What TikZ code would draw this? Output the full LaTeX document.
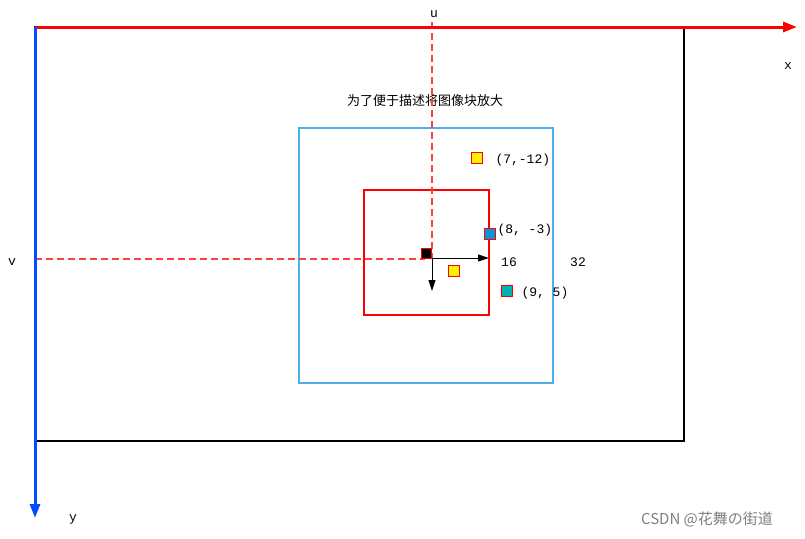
\documentclass[tikz,border=0pt]{standalone}
\usepackage{fontspec}
\setmonofont{Liberation Mono}
\newfontfamily\cjk{Noto Sans CJK SC}
\usetikzlibrary{arrows.meta}
\tikzset{
  axis/.style={line width=3pt,-{Triangle[length=14pt,width=10pt]}}, % main axes
  guide/.style={draw=red!75,line width=1.3pt,dash pattern=on 7pt off 4pt}, % dashed guides
  pix/.style={draw=red,line width=1pt,minimum size=11pt,inner sep=0pt}, % pixel squares
  lab/.style={font=\ttfamily\fontsize{13}{15}\selectfont}, % coordinate labels
  vec/.style={-{Triangle[length=11pt,width=7pt]},line width=1pt}, % local axes
}
\begin{document}
\begin{tikzpicture}[x=1pt,y=-1pt]
\useasboundingbox[fill=white] (0,0) rectangle (805,538);
% image frame and blocks
\draw[line width=1.6pt] (35,27) rectangle (684,441);
\draw[cyan!80!blue!70,line width=1.6pt] (299,128) rectangle (553,383);
\draw[red,line width=1.6pt] (364,190) rectangle (489,315);
\node[font=\cjk\fontsize{13}{15}\selectfont] (title) at (425,101) {为了便于描述将图像块放大};
% guides
\draw[guide] (432,22) -- (432,258);
\draw[guide] (35,259) -- (425,259);
% axes
\coordinate (o) at (35,27);
\coordinate (xend) at (797,27);
\coordinate (yend) at (35,518);
\draw[axis,red] (o) -- (xend);
\draw[axis,blue!70!cyan] (o) -- (yend);
\node[lab] (u) at (434,14) {u};
\node[lab] (x) at (788,66) {x};
\node[lab] (v) at (12,262) {v};
\node[lab] (y) at (73,519) {y};
% centre pixel and local axes
\node[pix,fill=black,minimum size=10pt] (c) at (426,253) {};
\coordinate (c0) at (432,258);
\coordinate (cr) at (489,258);
\coordinate (cd) at (432,291);
\draw[vec] (c0) -- (cr);
\draw[vec] (c0) -- (cd);
% sample pixels
\node[pix,fill=yellow] (p1) at (477,158) {};
\node[pix,fill=yellow] (p2) at (454,271) {};
\node[pix,fill=cyan!80!blue] (p3) at (490,234) {};
\node[pix,fill=teal!60!cyan] (p4) at (507,291) {};
\node[lab,anchor=west] (l1) at (492,160) {(7,-12)};
\node[lab,anchor=west] (l2) at (494,230) {(8, -3)};
\node[lab,anchor=west] (l3) at (518,293) {(9, 5)};
\node[lab] (n16) at (509,262) {16};
\node[lab] (n32) at (578,262) {32};
\node[font=\cjk\fontsize{15}{17}\selectfont,gray] (mark) at (707,519) {CSDN @花舞の街道};
\end{tikzpicture}
\end{document}
